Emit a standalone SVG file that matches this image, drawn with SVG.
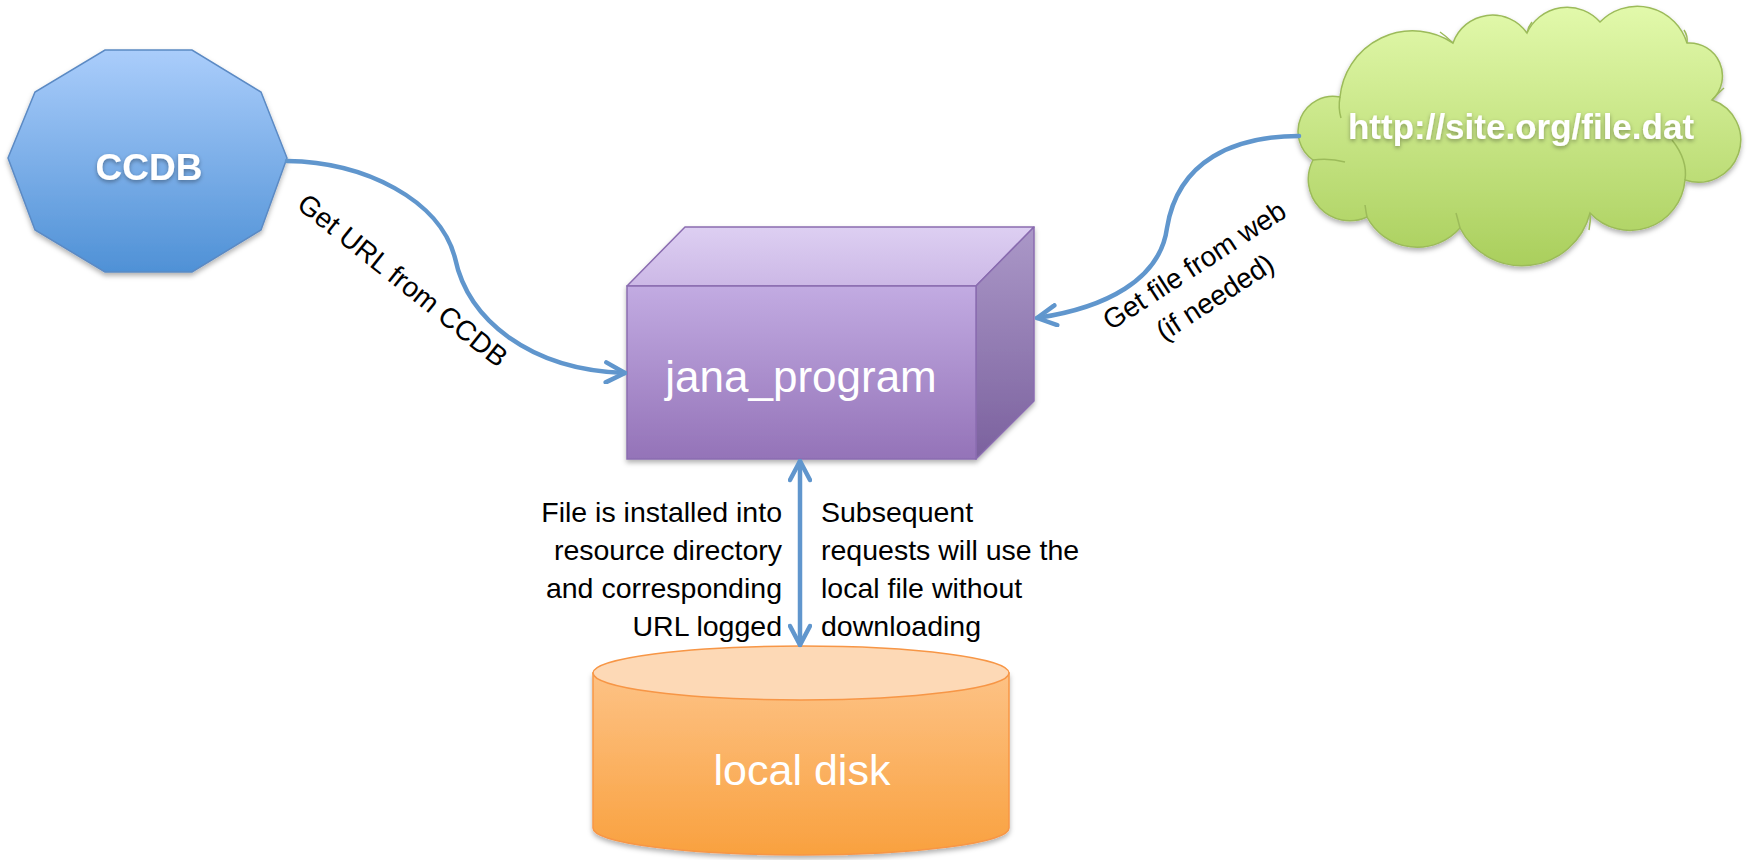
<svg xmlns="http://www.w3.org/2000/svg" width="1748" height="860" viewBox="0 0 1748 860">
  <style>
    .lbl { font-family: "Liberation Sans", Arial, sans-serif; font-size: 28.5px; fill: #000; }
    .rot { font-family: "Liberation Sans", Arial, sans-serif; font-size: 28px; fill: #000; text-anchor: middle; }
    .conn { fill: none; stroke: #6096cd; stroke-width: 4.5; stroke-linecap: round; }
    .white { fill: #fff; text-anchor: middle; font-family: "Liberation Sans", Arial, sans-serif; }
  </style>
  <defs>
    <linearGradient id="gDec" x1="0" y1="0" x2="0" y2="1">
      <stop offset="0" stop-color="#aacdfb"/>
      <stop offset="1" stop-color="#4f91d6"/>
    </linearGradient>
    <linearGradient id="gFront" x1="0" y1="0" x2="0" y2="1">
      <stop offset="0" stop-color="#c2abe2"/>
      <stop offset="1" stop-color="#9473b8"/>
    </linearGradient>
    <linearGradient id="gTop" x1="0" y1="0" x2="0" y2="1">
      <stop offset="0" stop-color="#ddcff2"/>
      <stop offset="1" stop-color="#ccb8e6"/>
    </linearGradient>
    <linearGradient id="gSide" x1="0" y1="0" x2="0" y2="1">
      <stop offset="0" stop-color="#ab98c8"/>
      <stop offset="1" stop-color="#7b619e"/>
    </linearGradient>
    <linearGradient id="gCyl" x1="0" y1="0" x2="0" y2="1">
      <stop offset="0" stop-color="#fdc285"/>
      <stop offset="1" stop-color="#f9a13f"/>
    </linearGradient>
    <linearGradient id="gCloud" x1="0" y1="0" x2="0" y2="1">
      <stop offset="0" stop-color="#e2f9ab"/>
      <stop offset="1" stop-color="#aacf5d"/>
    </linearGradient>
    <filter id="sh" x="-10%" y="-10%" width="120%" height="130%">
      <feDropShadow dx="0" dy="3" stdDeviation="2.5" flood-color="#000" flood-opacity="0.3"/>
    </filter>
    <filter id="tsh" x="-10%" y="-20%" width="120%" height="150%">
      <feDropShadow dx="0" dy="2" stdDeviation="2" flood-color="#000" flood-opacity="0.35"/>
    </filter>
    <marker id="arr" viewBox="0 0 24 24" refX="22" refY="12" markerWidth="24" markerHeight="24" markerUnits="userSpaceOnUse" orient="auto-start-reverse">
      <path d="M3,2 L22,12 L3,22" fill="none" stroke="#6096cd" stroke-width="4.5" stroke-linecap="round" stroke-linejoin="round"/>
    </marker>
  </defs>

  <rect width="1748" height="860" fill="#fff"/>

  <g id="ccdb">
    <polygon points="105,50 192,50 261,92 287,158 261,230 192,272 105,272 35,230 8,158 35,92" fill="url(#gDec)" stroke="#5b8ac4" stroke-width="1.5" filter="url(#sh)"/>
    <text x="149" y="180" class="white" font-size="37" font-weight="bold" filter="url(#tsh)">CCDB</text>
  </g>

  <g id="jana_program">
    <g filter="url(#sh)">
      <polygon points="627,286 685,227 1034,227 976,286" fill="url(#gTop)" stroke="#8a6cb0" stroke-width="1.5" stroke-linejoin="round"/>
      <polygon points="976,286 1034,227 1034,401 976,459" fill="url(#gSide)" stroke="#8a6cb0" stroke-width="1.5" stroke-linejoin="round"/>
      <rect x="627" y="286" width="349" height="173" fill="url(#gFront)" stroke="#8a6cb0" stroke-width="1.5"/>
    </g>
    <text x="801" y="392" class="white" font-size="44">jana_program</text>
  </g>

  <g id="web">
    <path d="M1313,160 A35,35 0 0 1 1340,97 A73,73 0 0 1 1453,43 A42,42 0 0 1 1527,33 A44,44 0 0 1 1600,22 A52,52 0 0 1 1687,43 A33,33 0 0 1 1712,100 A42,42 0 0 1 1685,180 A55,55 0 0 1 1590,213 A70,70 0 0 1 1460,228 A57,57 0 0 1 1367,217 A41.5,41.5 0 0 1 1313,160 Z" fill="url(#gCloud)" stroke="#9cbb5a" stroke-width="1.5" filter="url(#sh)"/>
    <g fill="none" stroke="#9cbb5a" stroke-width="1.5">
      <path d="M1313,160 Q1330,158 1345,162"/>
      <path d="M1340,97 Q1338,108 1341,118"/>
      <path d="M1453,43 Q1446,36 1440,32"/>
      <path d="M1527,33 Q1528,27 1532,22"/>
      <path d="M1687,43 Q1688,36 1684,30"/>
      <path d="M1712,100 Q1718,93 1724,88"/>
      <path d="M1685,180 Q1688,160 1672,140"/>
      <path d="M1590,213 Q1591,221 1589,230"/>
      <path d="M1460,228 Q1458,220 1456,213"/>
      <path d="M1367,217 Q1366,212 1365,205"/>
    </g>
    <text x="1521" y="139" class="white" font-size="35" font-weight="bold" filter="url(#tsh)">http://site.org/file.dat</text>
  </g>

  <g id="local_disk">
    <g filter="url(#sh)">
      <path d="M593,673 L593,828 A208,27 0 0 0 1009,828 L1009,673 Z" fill="url(#gCyl)" stroke="#f79646" stroke-width="1.5"/>
    </g>
    <ellipse cx="801" cy="673" rx="208" ry="27" fill="#fdd9b6" stroke="#f79646" stroke-width="1.5"/>
    <text x="802" y="785" class="white" font-size="43">local disk</text>
  </g>

  <g id="connectors">
    <path class="conn" d="M287,161 C365,162 440,200 455,258 C468,320 530,370 625,373" marker-end="url(#arr)"/>
    <path class="conn" d="M1299,136 C1235,136 1178,160 1167,228 C1160,280 1105,308 1037,318" marker-end="url(#arr)"/>
    <path class="conn" d="M800,461 L800,645" marker-start="url(#arr)" marker-end="url(#arr)"/>
  </g>

  <g id="labels">
    <g transform="translate(403,280) rotate(38.5)">
      <text class="rot" x="0" y="10">Get URL from CCDB</text>
    </g>
    <g transform="translate(1194,265) rotate(-33)">
      <text class="rot" x="0" y="10">Get file from web</text>
      <text class="rot" x="0" y="48">(if needed)</text>
    </g>
    <g text-anchor="end">
      <text class="lbl" x="782" y="522">File is installed into</text>
      <text class="lbl" x="782" y="560">resource directory</text>
      <text class="lbl" x="782" y="598">and corresponding</text>
      <text class="lbl" x="782" y="636">URL logged</text>
    </g>
    <g>
      <text class="lbl" x="821" y="522">Subsequent</text>
      <text class="lbl" x="821" y="560">requests will use the</text>
      <text class="lbl" x="821" y="598">local file without</text>
      <text class="lbl" x="821" y="636">downloading</text>
    </g>
  </g>
</svg>
